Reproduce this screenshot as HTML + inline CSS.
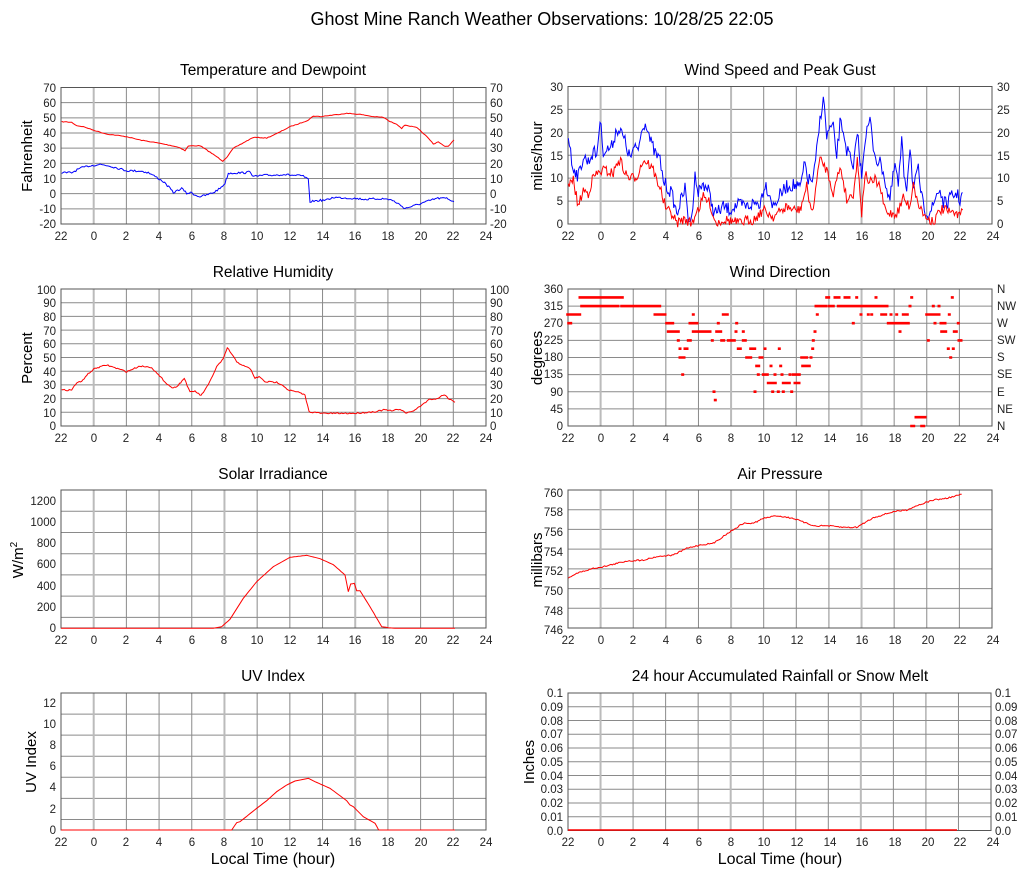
<!DOCTYPE html>
<html><head><meta charset="utf-8"><style>
html,body{margin:0;padding:0;background:#fff;}
svg{display:block;font-family:"Liberation Sans",Arial,sans-serif;}
.t{font-size:18px;}
.ct{font-size:15.5px;}
.tk{font-size:11.5px;fill:#222;}
.al{font-size:15px;}
.xl{font-size:16px;}
</style></head><body>
<svg id="s" width="1027" height="878" viewBox="0 0 1027 878" xmlns="http://www.w3.org/2000/svg">
<rect width="1027" height="878" fill="#fff"/>
<g id="grid"></g>
<g id="data"></g>
<text class="t" x="542" y="25" text-anchor="middle">Ghost Mine Ranch Weather Observations: 10/28/25 22:05</text>
<g class="ct" text-anchor="middle">
<text x="273" y="75">Temperature and Dewpoint</text>
<text x="780" y="75">Wind Speed and Peak Gust</text>
<text x="273" y="277">Relative Humidity</text>
<text x="780" y="277">Wind Direction</text>
<text x="273" y="479">Solar Irradiance</text>
<text x="780" y="479">Air Pressure</text>
<text x="273" y="681">UV Index</text>
<text x="780" y="681">24 hour Accumulated Rainfall or Snow Melt</text>
</g>
<g class="al" text-anchor="middle">
<text transform="translate(32,156) rotate(-90)">Fahrenheit</text>
<text transform="translate(542,156) rotate(-90)">miles/hour</text>
<text transform="translate(32,358) rotate(-90)">Percent</text>
<text transform="translate(542,358) rotate(-90)">degrees</text>
<text transform="translate(23,560) rotate(-90)">W/m<tspan dy="-6" font-size="10">2</tspan></text>
<text transform="translate(542,560) rotate(-90)">millibars</text>
<text transform="translate(36,762) rotate(-90)">UV Index</text>
<text transform="translate(534,762) rotate(-90)">Inches</text>
</g>
<g class="xl" text-anchor="middle">
<text x="273" y="864">Local Time (hour)</text>
<text x="780" y="864">Local Time (hour)</text>
</g>
<g class="tk" text-anchor="end">
<text x="56" y="92">70</text><text x="56" y="107">60</text><text x="56" y="122">50</text><text x="56" y="137">40</text><text x="56" y="152">30</text><text x="56" y="168">20</text><text x="56" y="183">10</text><text x="56" y="198">0</text><text x="56" y="213">-10</text><text x="56" y="228">-20</text>
<text x="563" y="91">30</text><text x="563" y="114">25</text><text x="563" y="137">20</text><text x="563" y="160">15</text><text x="563" y="182">10</text><text x="563" y="205">5</text><text x="563" y="228">0</text>
<text x="56" y="294">100</text><text x="56" y="307">90</text><text x="56" y="321">80</text><text x="56" y="335">70</text><text x="56" y="348">60</text><text x="56" y="362">50</text><text x="56" y="376">40</text><text x="56" y="389">30</text><text x="56" y="403">20</text><text x="56" y="417">10</text><text x="56" y="430">0</text>
<text x="563" y="293">360</text><text x="563" y="310">315</text><text x="563" y="327">270</text><text x="563" y="344">225</text><text x="563" y="361">180</text><text x="563" y="378">135</text><text x="563" y="396">90</text><text x="563" y="413">45</text><text x="563" y="430">0</text>
<text x="56" y="505">1200</text><text x="56" y="526">1000</text><text x="56" y="547">800</text><text x="56" y="568">600</text><text x="56" y="590">400</text><text x="56" y="611">200</text><text x="56" y="632">0</text>
<text x="563" y="497">760</text><text x="563" y="516">758</text><text x="563" y="536">756</text><text x="563" y="556">754</text><text x="563" y="575">752</text><text x="563" y="595">750</text><text x="563" y="615">748</text><text x="563" y="634">746</text>
<text x="56" y="707">12</text><text x="56" y="728">10</text><text x="56" y="749">8</text><text x="56" y="770">6</text><text x="56" y="791">4</text><text x="56" y="813">2</text><text x="56" y="834">0</text>
<text x="563" y="697">0.1</text><text x="563" y="711">0.09</text><text x="563" y="725">0.08</text><text x="563" y="738">0.07</text><text x="563" y="752">0.06</text><text x="563" y="766">0.05</text><text x="563" y="780">0.04</text><text x="563" y="793">0.03</text><text x="563" y="807">0.02</text><text x="563" y="821">0.01</text><text x="563" y="835">0.0</text>
</g>
<g class="tk" text-anchor="start">
<text x="490" y="92">70</text><text x="490" y="107">60</text><text x="490" y="122">50</text><text x="490" y="137">40</text><text x="490" y="152">30</text><text x="490" y="168">20</text><text x="490" y="183">10</text><text x="490" y="198">0</text><text x="490" y="213">-10</text><text x="490" y="228">-20</text>
<text x="997" y="91">30</text><text x="997" y="114">25</text><text x="997" y="137">20</text><text x="997" y="160">15</text><text x="997" y="182">10</text><text x="997" y="205">5</text><text x="997" y="228">0</text>
<text x="490" y="294">100</text><text x="490" y="307">90</text><text x="490" y="321">80</text><text x="490" y="335">70</text><text x="490" y="348">60</text><text x="490" y="362">50</text><text x="490" y="376">40</text><text x="490" y="389">30</text><text x="490" y="403">20</text><text x="490" y="417">10</text><text x="490" y="430">0</text>
<text x="997" y="293">N</text><text x="997" y="310">NW</text><text x="997" y="327">W</text><text x="997" y="344">SW</text><text x="997" y="361">S</text><text x="997" y="378">SE</text><text x="997" y="396">E</text><text x="997" y="413">NE</text><text x="997" y="430">N</text>
<text x="995" y="697">0.1</text><text x="995" y="711">0.09</text><text x="995" y="725">0.08</text><text x="995" y="738">0.07</text><text x="995" y="752">0.06</text><text x="995" y="766">0.05</text><text x="995" y="780">0.04</text><text x="995" y="793">0.03</text><text x="995" y="807">0.02</text><text x="995" y="821">0.01</text><text x="995" y="835">0.0</text>
</g>
<g class="tk" text-anchor="middle">
<g transform="translate(0,240)"><text x="61">22</text><text x="94">0</text><text x="126">2</text><text x="159">4</text><text x="192">6</text><text x="224">8</text><text x="257">10</text><text x="290">12</text><text x="323">14</text><text x="355">16</text><text x="388">18</text><text x="421">20</text><text x="453">22</text><text x="486">24</text></g>
<g transform="translate(507,240)"><text x="61">22</text><text x="94">0</text><text x="126">2</text><text x="159">4</text><text x="192">6</text><text x="224">8</text><text x="257">10</text><text x="290">12</text><text x="323">14</text><text x="355">16</text><text x="388">18</text><text x="421">20</text><text x="453">22</text><text x="486">24</text></g>
<g transform="translate(0,442)"><text x="61">22</text><text x="94">0</text><text x="126">2</text><text x="159">4</text><text x="192">6</text><text x="224">8</text><text x="257">10</text><text x="290">12</text><text x="323">14</text><text x="355">16</text><text x="388">18</text><text x="421">20</text><text x="453">22</text><text x="486">24</text></g>
<g transform="translate(507,442)"><text x="61">22</text><text x="94">0</text><text x="126">2</text><text x="159">4</text><text x="192">6</text><text x="224">8</text><text x="257">10</text><text x="290">12</text><text x="323">14</text><text x="355">16</text><text x="388">18</text><text x="421">20</text><text x="453">22</text><text x="486">24</text></g>
<g transform="translate(0,644)"><text x="61">22</text><text x="94">0</text><text x="126">2</text><text x="159">4</text><text x="192">6</text><text x="224">8</text><text x="257">10</text><text x="290">12</text><text x="323">14</text><text x="355">16</text><text x="388">18</text><text x="421">20</text><text x="453">22</text><text x="486">24</text></g>
<g transform="translate(507,644)"><text x="61">22</text><text x="94">0</text><text x="126">2</text><text x="159">4</text><text x="192">6</text><text x="224">8</text><text x="257">10</text><text x="290">12</text><text x="323">14</text><text x="355">16</text><text x="388">18</text><text x="421">20</text><text x="453">22</text><text x="486">24</text></g>
<g transform="translate(0,846)"><text x="61">22</text><text x="94">0</text><text x="126">2</text><text x="159">4</text><text x="192">6</text><text x="224">8</text><text x="257">10</text><text x="290">12</text><text x="323">14</text><text x="355">16</text><text x="388">18</text><text x="421">20</text><text x="453">22</text><text x="486">24</text></g>
<g transform="translate(507,846)"><text x="61">22</text><text x="94">0</text><text x="126">2</text><text x="159">4</text><text x="192">6</text><text x="224">8</text><text x="257">10</text><text x="290">12</text><text x="323">14</text><text x="355">16</text><text x="388">18</text><text x="421">20</text><text x="453">22</text><text x="486">24</text></g>
</g>
</svg>
<script>
(function(){
var NS="http://www.w3.org/2000/svg",G=document.getElementById("grid"),D=document.getElementById("data");
function el(p,tag,a){var e=document.createElementNS(NS,tag);for(var k in a)e.setAttribute(k,a[k]);p.appendChild(e);return e;}
function panel(x0,x1,y0,y1,n){
 for(var i=1;i<n;i++){var y=y0+(y1-y0)*i/n;el(G,"line",{x1:x0,x2:x1,y1:y,y2:y,stroke:"#8a8a8a","stroke-width":1});}
 for(var k=1;k<13;k++){var x=x0+(x1-x0)*k/13;el(G,"line",{x1:x,x2:x,y1:y0,y2:y1,stroke:(k%4==1?"#bbb":"#8a8a8a"),"stroke-width":(k%4==1?2:1)});}
 el(G,"rect",{x:x0,y:y0,width:x1-x0,height:y1-y0,fill:"none",stroke:"#555","stroke-width":1});
}
panel(61,486,87.5,224,9);panel(568,992,86.5,224,6);
panel(61,486,289,426,10);panel(568,992,289,426,8);
panel(61,486,490,628,13/2);panel(568,992,490,628,7);
panel(61,486,693,830,13/2);panel(568,991,693,830.5,10);
var seed=7;function rnd(){seed=(seed*16807)%2147483647;return seed/2147483647;}
function line(pts,ox,oy,col,noise,step){
 var out=[];for(var i=0;i<pts.length-1;i++){var a=pts[i],b=pts[i+1];var n=Math.max(1,Math.round((b[0]-a[0])/(step||6)));
  for(var j=0;j<n;j++){var t=j/n;var x=a[0]+(b[0]-a[0])*t,y=a[1]+(b[1]-a[1])*t+(noise?(rnd()-0.5)*noise:0);out.push((ox+x/3).toFixed(1)+","+(oy+y/3).toFixed(1));}}
 var l=pts[pts.length-1];out.push((ox+l[0]/3).toFixed(1)+","+(oy+l[1]/3).toFixed(1));
 el(D,"polyline",{points:out.join(" "),fill:"none",stroke:col,"stroke-width":1});
}
line([[185,185],[215,187],[230,197],[250,200],[285,212],[320,222],[380,230],[420,240],[480,250],[520,258],[540,263],[555,272],[565,258],[600,257],[620,270],[650,290],[668,303],[680,292],[700,265],[740,243],[760,232],[800,234],[830,221],[870,200],[900,190],[925,180],[940,168],[960,170],[1000,165],[1040,160],[1080,163],[1120,170],[1150,172],[1170,185],[1190,192],[1205,205],[1215,195],[1250,203],[1270,220],[1290,240],[1300,252],[1315,245],[1335,260],[1345,258],[1362,240]],0,60,"#f00",2,5);
line([[185,338],[215,338],[240,325],[265,318],[300,313],[330,318],[380,332],[420,333],[445,338],[470,352],[490,365],[510,385],[520,398],[545,385],[560,400],[575,398],[585,405],[600,410],[620,405],[640,398],[660,385],[675,370],[685,340],[700,339],[740,338],[750,333],[760,350],[790,346],[830,345],[850,343],[880,346],[910,348],[925,360],[930,425],[950,422],[980,420],[1000,412],[1060,415],[1100,418],[1140,416],[1170,418],[1190,428],[1215,445],[1240,438],[1270,428],[1310,415],[1340,415],[1362,425]],0,60,"#00f",6,4);
line([[25,160],[35,250],[55,290],[70,230],[85,245],[100,215],[110,225],[120,120],[130,210],[140,210],[155,200],[170,145],[185,160],[195,185],[210,235],[220,210],[235,205],[250,130],[262,135],[270,180],[285,220],[300,240],[310,300],[320,320],[335,340],[350,400],[365,355],[375,325],[385,415],[395,420],[405,270],[412,340],[430,310],[445,330],[460,390],[470,400],[490,380],[510,390],[520,380],[540,375],[560,380],[580,370],[600,370],[615,310],[630,345],[640,380],[660,345],[680,320],[700,315],[720,325],[735,250],[745,300],[760,300],[770,215],[780,120],[790,48],[800,170],[810,145],[820,145],[830,230],[840,130],[850,150],[860,210],[870,230],[880,280],[892,145],[900,250],[905,280],[915,175],[930,120],[940,200],[950,240],[960,250],[970,270],[980,330],[990,360],[1005,250],[1015,320],[1025,185],[1032,280],[1040,320],[1050,195],[1060,330],[1075,270],[1082,330],[1090,380],[1105,400],[1120,380],[1130,340],[1140,330],[1150,370],[1160,370],[1175,350],[1190,340],[1200,360],[1208,338]],560,80,"#00f",40,3);
line([[25,320],[40,300],[55,380],[70,330],[85,340],[100,290],[115,280],[130,270],[145,275],[160,280],[175,240],[185,250],[195,280],[210,295],[230,290],[250,240],[265,250],[280,270],[290,300],[300,320],[310,360],[320,390],[335,400],[350,430],[365,420],[380,420],[395,432],[410,390],[420,380],[430,350],[440,360],[450,370],[460,410],[470,430],[485,420],[500,420],[520,425],[540,430],[560,420],[580,420],[595,405],[610,390],[625,400],[640,410],[660,395],[680,380],[700,390],[720,390],[740,320],[750,370],[760,400],[770,290],[780,240],[790,250],[800,270],[810,300],[820,340],[830,300],[840,260],[850,300],[860,360],[870,350],[880,340],[892,240],[900,330],[905,400],[915,280],[925,300],[935,310],[945,300],[960,320],[970,370],[980,400],[995,400],[1010,400],[1020,380],[1030,350],[1040,370],[1050,380],[1060,300],[1070,360],[1080,380],[1095,410],[1110,420],[1125,420],[1140,390],[1155,390],[1170,400],[1180,395],[1190,410],[1195,390],[1208,390]],560,80,"#f00",30,3);
line([[20,315],[50,315],[65,293],[80,290],[95,270],[120,250],[155,240],[200,255],[215,260],[255,243],[290,247],[310,270],[340,300],[355,310],[370,300],[388,280],[405,322],[420,318],[438,332],[460,300],[485,245],[505,222],[517,188],[545,230],[570,245],[585,250],[600,280],[612,275],[630,290],[665,292],[680,298],[700,315],[730,322],[750,330],[762,380],[800,385],[900,385],[960,380],[990,374],[1010,378],[1035,372],[1055,385],[1080,375],[1100,360],[1125,342],[1145,342],[1168,328],[1180,340],[1200,352]],55,285,"#f00",4,4);
line([[25,278],[50,265],[100,250],[130,245],[180,233],[200,228],[250,225],[290,215],[340,210],[380,190],[420,180],[460,175],[510,140],[550,115],[580,115],[610,100],[650,92],[700,100],[740,115],[765,123],[800,122],[850,127],[890,127],[940,98],[1000,80],[1040,75],[1070,62],[1120,45],[1160,40],[1205,28]],560,485,"#f00",4,4);
line([[183,505],[640,505],[665,500],[690,478],[730,415],[770,365],[820,320],[870,292],[920,286],[960,296],[1000,314],[1035,345],[1045,395],[1052,372],[1063,370],[1070,392],[1080,392],[1110,440],[1145,500],[1165,503],[1185,505],[1365,505]],0,460,"#f00",0,6);
line([[183,1110],[695,1110],[710,1088],[720,1085],[770,1045],[800,1022],[830,995],[860,975],[885,963],[925,955],[945,965],[990,985],[1040,1022],[1050,1035],[1060,1040],[1090,1070],[1125,1090],[1135,1108],[1137,1110],[1365,1110]],0,460,"#f00",0,6);
el(D,"line",{x1:568,x2:957,y1:830,y2:830,stroke:"#f00","stroke-width":1.5});
var W=[[173,185,293],[176,185,270],[185,210,293],[210,265,338],[215,265,315],[265,325,338],[270,325,315],[325,340,338],[335,450,315],[435,470,293],[470,490,270],[475,505,248],[505,507,225],[510,512,203],[510,525,180],[518,520,135],[525,535,203],[535,545,225],[540,555,270],[550,552,293],[550,552,248],[558,605,248],[555,565,270],[607,609,225],[612,614,90],[616,618,68],[620,635,248],[625,627,270],[635,645,225],[640,655,293],[655,675,225],[678,680,248],[680,682,270],[685,695,203],[700,702,248],[700,710,225],[710,725,180],[722,735,203],[735,737,90],[740,750,158],[745,747,135],[750,760,180],[760,772,135],[765,767,203],[775,785,113],[783,785,158],[788,790,90],[790,800,113],[795,797,135],[805,807,90],[808,810,203],[812,814,158],[816,818,135],[820,822,90],[820,840,113],[840,842,135],[845,847,90],[850,870,135],[855,870,113],[875,885,180],[878,885,158],[890,892,180],[892,900,158],[903,905,180],[908,910,203],[910,912,225],[915,917,248],[918,950,315],[922,924,293],[950,958,338],[958,975,315],[975,990,338],[985,1040,315],[1005,1020,338],[1030,1032,270],[1040,1042,338],[1040,1120,315],[1053,1055,293],[1075,1077,293],[1085,1087,293],[1098,1100,338],[1115,1130,293],[1125,1135,315],[1135,1200,270],[1143,1145,293],[1160,1162,293],[1170,1172,248],[1180,1195,293],[1200,1202,315],[1205,1207,338],[1205,1215,0],[1218,1240,23],[1235,1245,0],[1245,1247,23],[1250,1270,293],[1255,1257,225],[1270,1272,315],[1275,1277,270],[1275,1290,293],[1287,1289,315],[1293,1305,270],[1295,1310,248],[1318,1320,293],[1315,1317,203],[1322,1324,180],[1327,1329,338],[1330,1332,203],[1333,1340,248],[1345,1347,270],[1347,1358,225]];
var ps="";
W.forEach(function(s){for(var px=s[0];px<=s[1];px+=6){var x=510+px/3,y=270+(468-s[2]*411/360)/3;ps+="M"+(x-1.5).toFixed(1)+" "+(y-1.3).toFixed(1)+"h3v2.6h-3z";}});
el(D,"path",{d:ps,fill:"#f00"});
})();
</script>
</body></html>
